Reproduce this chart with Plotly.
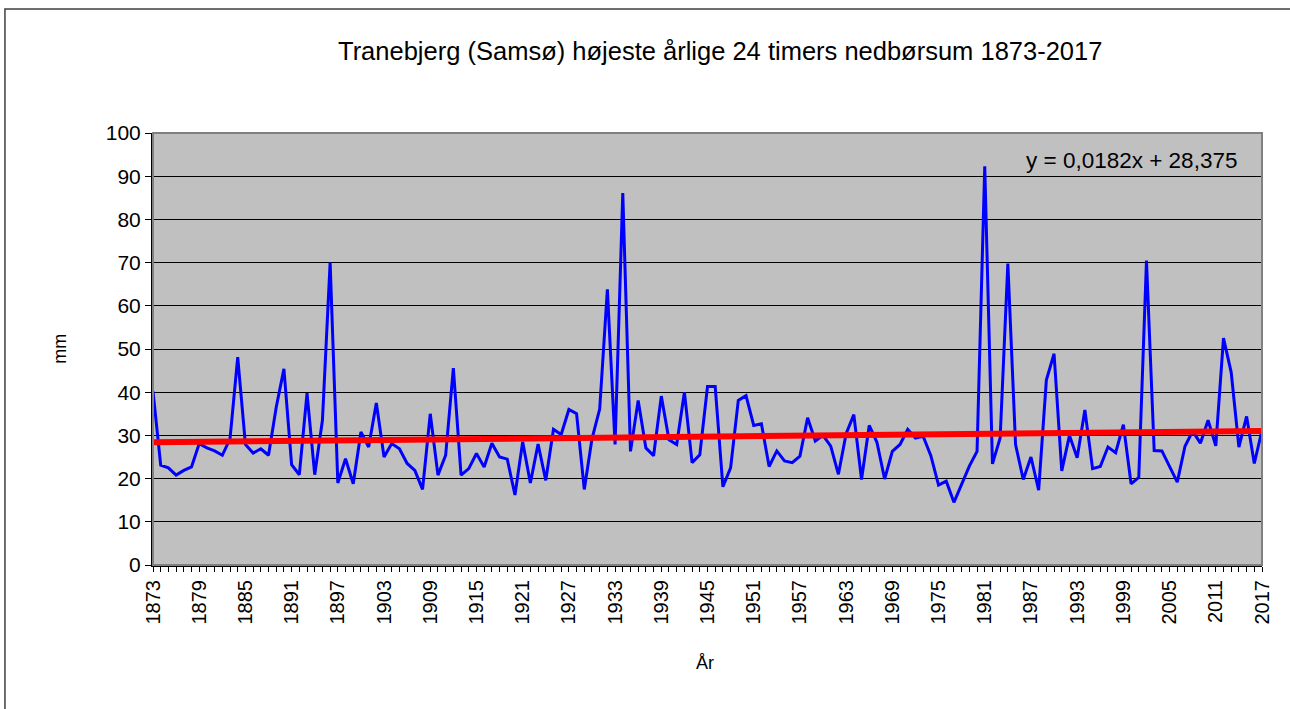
import numpy as np
import plotly.graph_objects as go

# years on the x axis, 1873-2017
years = list(range(1873, 2018))

# highest 24-hour rainfall each year (mm)
rain_mm = [
    40.2, 23.1, 22.5, 20.8, 21.9, 22.7, 28.1, 27.1, 26.4, 25.4,
    29.2, 48.1, 27.9, 25.9, 26.9, 25.4, 36.5, 45.4, 23.2, 20.9,
    39.8, 20.9, 33.5, 70.0, 19.0, 24.6, 18.8, 30.8, 27.3, 37.5,
    25.0, 28.1, 26.9, 23.5, 21.9, 17.5, 35.0, 20.8, 25.4, 45.6,
    20.8, 22.3, 25.8, 22.7, 28.2, 25.0, 24.5, 16.2, 28.5, 19.0,
    28.0, 19.6, 31.4, 30.2, 36.0, 35.0, 17.5, 29.2, 36.1, 63.8,
    27.9, 86.1, 26.3, 38.1, 27.1, 25.3, 39.1, 29.0, 27.9, 40.0,
    23.7, 25.5, 41.3, 41.3, 18.1, 22.5, 38.1, 39.2, 32.3, 32.7,
    22.8, 26.4, 24.1, 23.7, 25.2, 34.1, 28.7, 30.0, 27.5, 21.0,
    30.4, 34.8, 19.8, 32.3, 28.4, 19.9, 26.3, 27.9, 31.4, 29.4,
    29.8, 25.3, 18.5, 19.4, 14.5, 18.8, 22.9, 26.3, 92.3, 23.4,
    29.4, 69.8, 27.9, 19.8, 25.0, 17.3, 42.8, 48.9, 21.8, 30.0,
    24.8, 35.9, 22.3, 22.8, 27.3, 26.0, 32.5, 18.8, 20.3, 70.5,
    26.5, 26.4, 22.7, 19.2, 27.5, 31.0, 28.2, 33.5, 27.6, 52.5,
    44.6, 27.3, 34.4, 23.5, 31.2,
]

# linear trend as printed on the chart (x = 1, 2, ... per year)
slope = 0.0182
intercept = 28.375

tick_years = list(range(1873, 2018, 6))
y_ticks = list(range(0, 101, 10))

FONT = "Arial, Liberation Sans, sans-serif"

trend_x = [years[0], years[-1]]
trend_y = [slope * 1 + intercept, slope * len(years) + intercept]

fig = go.Figure()

fig.add_trace(go.Scatter(
    x=years, y=rain_mm, mode="lines",
    line=dict(color="#0000FF", width=3),
    showlegend=False, hoverinfo="x+y",
))

fig.add_trace(go.Scatter(
    x=trend_x, y=trend_y, mode="lines",
    line=dict(color="#FF0000", width=6),
    showlegend=False, hoverinfo="skip",
))

fig.update_xaxes(
    range=[1873, 2017],
    tickvals=tick_years,
    ticktext=[str(y) for y in tick_years],
    tickangle=-90,
    ticks="outside", ticklen=5, tickcolor="black",
    minor=dict(dtick=1, tick0=1873, ticks="outside", ticklen=5, tickcolor="black"),
    showgrid=False, zeroline=False,
    showline=True, linecolor="black", linewidth=2,
    tickfont=dict(family=FONT, size=20, color="black"),
)

fig.update_yaxes(
    range=[0, 100],
    tickvals=y_ticks,
    ticks="outside", ticklen=6, tickcolor="black",
    showgrid=True, gridcolor="black", gridwidth=1,
    zeroline=False,
    showline=True, linecolor="black", linewidth=2,
    tickfont=dict(family=FONT, size=21, color="black"),
)

fig.update_layout(
    width=1290, height=709,
    margin=dict(l=153, r=28, t=133, b=144),
    paper_bgcolor="white",
    plot_bgcolor="#C0C0C0",
    font=dict(family=FONT, color="black"),
    shapes=[
        # grey frame on the plot area
        dict(type="rect", xref="paper", yref="paper", x0=0, x1=1, y0=0, y1=1,
             line=dict(color="#808080", width=2), layer="above"),
        # outer chart border (right/bottom edges fall outside the picture)
        dict(type="rect", xref="paper", yref="paper",
             x0=-0.1335, x1=1.2, y0=-0.5, y1=1.287,
             line=dict(color="#404040", width=1.5)),
    ],
    annotations=[
        dict(text="Tranebjerg (Samsø) højeste årlige 24 timers nedbørsum 1873-2017",
             xref="paper", yref="paper", x=0.511, y=1.19,
             showarrow=False, font=dict(size=25.5, family=FONT),
             xanchor="center", yanchor="middle"),
        dict(text="mm", xref="paper", yref="paper", x=-0.084, y=0.5,
             textangle=-90, showarrow=False, font=dict(size=18, family=FONT),
             xanchor="center", yanchor="middle"),
        dict(text="År", xref="paper", yref="paper", x=0.498, y=-0.227,
             showarrow=False, font=dict(size=18, family=FONT),
             xanchor="center", yanchor="middle"),
        dict(text="y = 0,0182x + 28,375", xref="paper", yref="paper",
             x=0.882, y=0.9375, showarrow=False,
             font=dict(size=22.5, family=FONT),
             xanchor="center", yanchor="middle"),
    ],
)

# drop the browser's default page margin so the figure sits at the top-left corner
fig.write_html("out.html", config={"displayModeBar": False},
               post_script="document.body.style.margin='0';")
